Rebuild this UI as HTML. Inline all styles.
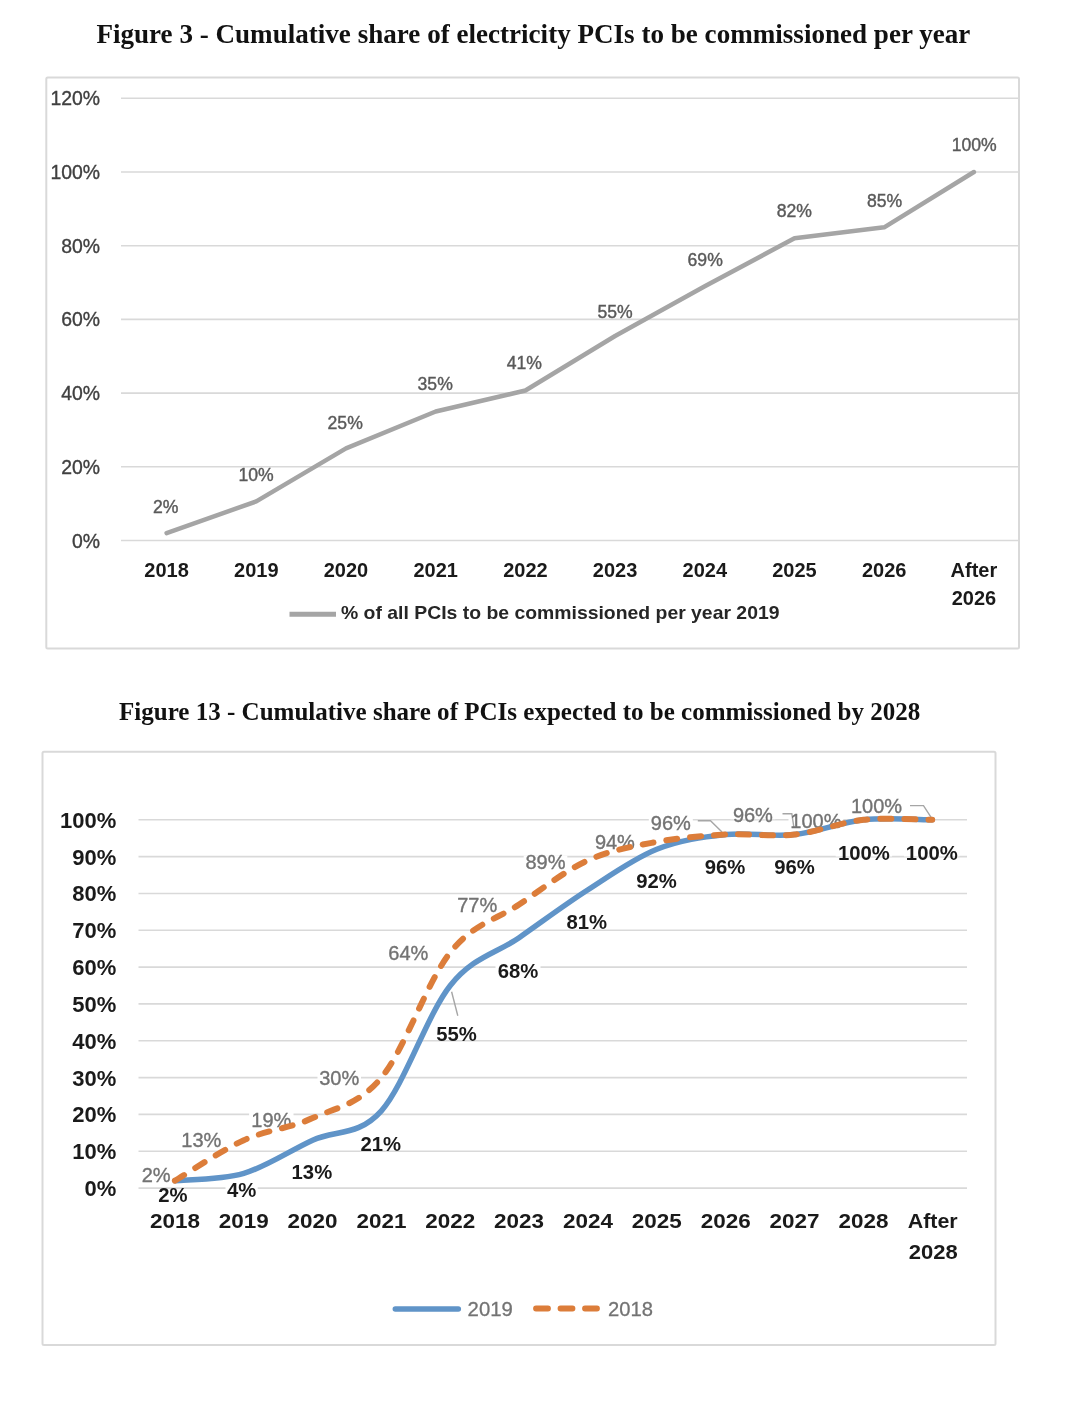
<!DOCTYPE html><html><head><meta charset="utf-8"><style>html,body{margin:0;padding:0;background:#fff;}svg{display:block;}.sf{font-family:"Liberation Serif",serif;font-weight:bold;fill:#111;}.ss{font-family:"Liberation Sans",sans-serif;}</style></head><body>
<svg width="1066" height="1412" viewBox="0 0 1066 1412">
<rect width="1066" height="1412" fill="#fff"/>
<text class="sf" x="96.4" y="42.8" font-size="26.5" textLength="874" lengthAdjust="spacingAndGlyphs">Figure 3 - Cumulative share of electricity PCIs to be commissioned per year</text>
<rect x="46.3" y="77.5" width="972.7" height="571" rx="1.5" fill="none" stroke="#d9d9d9" stroke-width="2"/>
<line x1="121" y1="540.5" x2="1018" y2="540.5" stroke="#d9d9d9" stroke-width="1.6"/>
<text class="ss" x="100" y="547.5" font-size="19.4" fill="#404040" stroke="#404040" stroke-width="0.35" text-anchor="end">0%</text>
<line x1="121" y1="466.8" x2="1018" y2="466.8" stroke="#d9d9d9" stroke-width="1.6"/>
<text class="ss" x="100" y="473.8" font-size="19.4" fill="#404040" stroke="#404040" stroke-width="0.35" text-anchor="end">20%</text>
<line x1="121" y1="393.1" x2="1018" y2="393.1" stroke="#d9d9d9" stroke-width="1.6"/>
<text class="ss" x="100" y="400.1" font-size="19.4" fill="#404040" stroke="#404040" stroke-width="0.35" text-anchor="end">40%</text>
<line x1="121" y1="319.4" x2="1018" y2="319.4" stroke="#d9d9d9" stroke-width="1.6"/>
<text class="ss" x="100" y="326.4" font-size="19.4" fill="#404040" stroke="#404040" stroke-width="0.35" text-anchor="end">60%</text>
<line x1="121" y1="245.7" x2="1018" y2="245.7" stroke="#d9d9d9" stroke-width="1.6"/>
<text class="ss" x="100" y="252.7" font-size="19.4" fill="#404040" stroke="#404040" stroke-width="0.35" text-anchor="end">80%</text>
<line x1="121" y1="172.0" x2="1018" y2="172.0" stroke="#d9d9d9" stroke-width="1.6"/>
<text class="ss" x="100" y="179.0" font-size="19.4" fill="#404040" stroke="#404040" stroke-width="0.35" text-anchor="end">100%</text>
<line x1="121" y1="98.3" x2="1018" y2="98.3" stroke="#d9d9d9" stroke-width="1.6"/>
<text class="ss" x="100" y="105.3" font-size="19.4" fill="#404040" stroke="#404040" stroke-width="0.35" text-anchor="end">120%</text>
<polyline points="166.6,533.1 256.3,501.4 346.0,448.4 435.7,411.5 525.4,390.5 615.1,336.0 704.8,286.2 794.5,238.3 884.2,227.3 973.9,172.0" fill="none" stroke="#a5a5a5" stroke-width="4.5" stroke-linejoin="round" stroke-linecap="round"/>
<text class="ss" x="165.7" y="512.8" font-size="17.6" fill="#5a5a5a" stroke="#5a5a5a" stroke-width="0.4" text-anchor="middle">2%</text>
<text class="ss" x="256.1" y="481.4" font-size="17.6" fill="#5a5a5a" stroke="#5a5a5a" stroke-width="0.4" text-anchor="middle">10%</text>
<text class="ss" x="345.2" y="428.9" font-size="17.6" fill="#5a5a5a" stroke="#5a5a5a" stroke-width="0.4" text-anchor="middle">25%</text>
<text class="ss" x="435.2" y="390.0" font-size="17.6" fill="#5a5a5a" stroke="#5a5a5a" stroke-width="0.4" text-anchor="middle">35%</text>
<text class="ss" x="524.4" y="369.3" font-size="17.6" fill="#5a5a5a" stroke="#5a5a5a" stroke-width="0.4" text-anchor="middle">41%</text>
<text class="ss" x="615.1" y="318.3" font-size="17.6" fill="#5a5a5a" stroke="#5a5a5a" stroke-width="0.4" text-anchor="middle">55%</text>
<text class="ss" x="705.2" y="265.9" font-size="17.6" fill="#5a5a5a" stroke="#5a5a5a" stroke-width="0.4" text-anchor="middle">69%</text>
<text class="ss" x="794.3" y="216.7" font-size="17.6" fill="#5a5a5a" stroke="#5a5a5a" stroke-width="0.4" text-anchor="middle">82%</text>
<text class="ss" x="884.6" y="206.6" font-size="17.6" fill="#5a5a5a" stroke="#5a5a5a" stroke-width="0.4" text-anchor="middle">85%</text>
<text class="ss" x="974.2" y="150.8" font-size="17.6" fill="#5a5a5a" stroke="#5a5a5a" stroke-width="0.4" text-anchor="middle">100%</text>
<text class="ss" x="166.6" y="577.2" font-size="20" font-weight="bold" fill="#1a1a1a" text-anchor="middle">2018</text>
<text class="ss" x="256.3" y="577.2" font-size="20" font-weight="bold" fill="#1a1a1a" text-anchor="middle">2019</text>
<text class="ss" x="346.0" y="577.2" font-size="20" font-weight="bold" fill="#1a1a1a" text-anchor="middle">2020</text>
<text class="ss" x="435.7" y="577.2" font-size="20" font-weight="bold" fill="#1a1a1a" text-anchor="middle">2021</text>
<text class="ss" x="525.4" y="577.2" font-size="20" font-weight="bold" fill="#1a1a1a" text-anchor="middle">2022</text>
<text class="ss" x="615.1" y="577.2" font-size="20" font-weight="bold" fill="#1a1a1a" text-anchor="middle">2023</text>
<text class="ss" x="704.8" y="577.2" font-size="20" font-weight="bold" fill="#1a1a1a" text-anchor="middle">2024</text>
<text class="ss" x="794.5" y="577.2" font-size="20" font-weight="bold" fill="#1a1a1a" text-anchor="middle">2025</text>
<text class="ss" x="884.2" y="577.2" font-size="20" font-weight="bold" fill="#1a1a1a" text-anchor="middle">2026</text>
<text class="ss" x="973.9" y="577.2" font-size="20" font-weight="bold" fill="#1a1a1a" text-anchor="middle">After</text>
<text class="ss" x="973.9" y="604.5" font-size="20" font-weight="bold" fill="#1a1a1a" text-anchor="middle">2026</text>
<line x1="289.5" y1="614.2" x2="336" y2="614.2" stroke="#a5a5a5" stroke-width="5"/>
<text class="ss" x="341" y="619.4" font-size="19" font-weight="bold" fill="#262626" textLength="438.5" lengthAdjust="spacingAndGlyphs">% of all PCIs to be commissioned per year 2019</text>
<text class="sf" x="119" y="719.8" font-size="24.3" textLength="801.2" lengthAdjust="spacingAndGlyphs">Figure 13 - Cumulative share of PCIs expected to be commissioned by 2028</text>
<rect x="42.5" y="751.8" width="953" height="593.2" rx="1.5" fill="none" stroke="#d9d9d9" stroke-width="2"/>
<line x1="138.5" y1="1188.1" x2="967" y2="1188.1" stroke="#d9d9d9" stroke-width="1.6"/>
<text class="ss" x="116.4" y="1196.0" font-size="22" font-weight="bold" fill="#1a1a1a" text-anchor="end">0%</text>
<line x1="138.5" y1="1151.3" x2="967" y2="1151.3" stroke="#d9d9d9" stroke-width="1.6"/>
<text class="ss" x="116.4" y="1159.2" font-size="22" font-weight="bold" fill="#1a1a1a" text-anchor="end">10%</text>
<line x1="138.5" y1="1114.4" x2="967" y2="1114.4" stroke="#d9d9d9" stroke-width="1.6"/>
<text class="ss" x="116.4" y="1122.3" font-size="22" font-weight="bold" fill="#1a1a1a" text-anchor="end">20%</text>
<line x1="138.5" y1="1077.6" x2="967" y2="1077.6" stroke="#d9d9d9" stroke-width="1.6"/>
<text class="ss" x="116.4" y="1085.5" font-size="22" font-weight="bold" fill="#1a1a1a" text-anchor="end">30%</text>
<line x1="138.5" y1="1040.8" x2="967" y2="1040.8" stroke="#d9d9d9" stroke-width="1.6"/>
<text class="ss" x="116.4" y="1048.7" font-size="22" font-weight="bold" fill="#1a1a1a" text-anchor="end">40%</text>
<line x1="138.5" y1="1003.9" x2="967" y2="1003.9" stroke="#d9d9d9" stroke-width="1.6"/>
<text class="ss" x="116.4" y="1011.8" font-size="22" font-weight="bold" fill="#1a1a1a" text-anchor="end">50%</text>
<line x1="138.5" y1="967.1" x2="967" y2="967.1" stroke="#d9d9d9" stroke-width="1.6"/>
<text class="ss" x="116.4" y="975.0" font-size="22" font-weight="bold" fill="#1a1a1a" text-anchor="end">60%</text>
<line x1="138.5" y1="930.3" x2="967" y2="930.3" stroke="#d9d9d9" stroke-width="1.6"/>
<text class="ss" x="116.4" y="938.2" font-size="22" font-weight="bold" fill="#1a1a1a" text-anchor="end">70%</text>
<line x1="138.5" y1="893.5" x2="967" y2="893.5" stroke="#d9d9d9" stroke-width="1.6"/>
<text class="ss" x="116.4" y="901.4" font-size="22" font-weight="bold" fill="#1a1a1a" text-anchor="end">80%</text>
<line x1="138.5" y1="856.6" x2="967" y2="856.6" stroke="#d9d9d9" stroke-width="1.6"/>
<text class="ss" x="116.4" y="864.5" font-size="22" font-weight="bold" fill="#1a1a1a" text-anchor="end">90%</text>
<line x1="138.5" y1="819.8" x2="967" y2="819.8" stroke="#d9d9d9" stroke-width="1.6"/>
<text class="ss" x="116.4" y="827.7" font-size="22" font-weight="bold" fill="#1a1a1a" text-anchor="end">100%</text>
<rect x="140.2" y="1167.9" width="31.7" height="10.8" fill="#fff"/>
<rect x="179.5" y="1132.7" width="43.6" height="11.4" fill="#fff"/>
<rect x="249.1" y="1112.2" width="44.4" height="11.4" fill="#fff"/>
<rect x="317.5" y="1070.8" width="43.5" height="11.4" fill="#fff"/>
<rect x="385.8" y="946.5" width="45.0" height="10.5" fill="#fff"/>
<rect x="455.3" y="897.2" width="43.9" height="11.4" fill="#fff"/>
<rect x="523.7" y="855.6" width="43.6" height="10.8" fill="#fff"/>
<rect x="592.7" y="834.7" width="44.4" height="11.4" fill="#fff"/>
<rect x="648.8" y="815.2" width="44.0" height="11.6" fill="#fff"/>
<rect x="730.5" y="808.5" width="44.8" height="10.8" fill="#fff"/>
<rect x="788.5" y="814.2" width="54.8" height="10.9" fill="#fff"/>
<rect x="849.3" y="799.1" width="54.4" height="10.8" fill="#fff"/>
<rect x="157.1" y="1189.0" width="31.7" height="10.0" fill="#fff"/>
<rect x="225.5" y="1183.4" width="32.2" height="10.5" fill="#fff"/>
<rect x="290.2" y="1164.5" width="43.5" height="11.4" fill="#fff"/>
<rect x="358.9" y="1137.5" width="43.8" height="10.3" fill="#fff"/>
<rect x="434.2" y="1026.7" width="44.7" height="11.4" fill="#fff"/>
<rect x="495.5" y="963.4" width="45.0" height="11.4" fill="#fff"/>
<rect x="564.5" y="915.0" width="44.4" height="10.5" fill="#fff"/>
<rect x="633.8" y="873.5" width="45.5" height="11.5" fill="#fff"/>
<rect x="702.5" y="859.2" width="45.0" height="11.6" fill="#fff"/>
<rect x="771.9" y="859.2" width="45.1" height="11.6" fill="#fff"/>
<rect x="835.7" y="844.2" width="56.4" height="12.3" fill="#fff"/>
<rect x="904.0" y="844.2" width="55.5" height="12.3" fill="#fff"/>
<g fill="none" stroke="#a6a6a6" stroke-width="1.4">
<polyline points="451.6,991.8 457.8,1015.8"/>
<polyline points="697.8,820.8 710.5,820.8 722,832"/>
<polyline points="782.5,813.7 791.8,813.7 794,828"/>
<polyline points="910,805.6 923.5,805.6 933.7,821.3"/>
</g>
<text class="ss" x="156.1" y="1181.7" font-size="20" fill="#737373" stroke="#737373" stroke-width="0.35" text-anchor="middle">2%</text>
<text class="ss" x="201.3" y="1147.1" font-size="20" fill="#737373" stroke="#737373" stroke-width="0.35" text-anchor="middle">13%</text>
<text class="ss" x="271.3" y="1126.6" font-size="20" fill="#737373" stroke="#737373" stroke-width="0.35" text-anchor="middle">19%</text>
<text class="ss" x="339.2" y="1085.2" font-size="20" fill="#737373" stroke="#737373" stroke-width="0.35" text-anchor="middle">30%</text>
<text class="ss" x="408.3" y="960.0" font-size="20" fill="#737373" stroke="#737373" stroke-width="0.35" text-anchor="middle">64%</text>
<text class="ss" x="477.2" y="911.6" font-size="20" fill="#737373" stroke="#737373" stroke-width="0.35" text-anchor="middle">77%</text>
<text class="ss" x="545.5" y="869.4" font-size="20" fill="#737373" stroke="#737373" stroke-width="0.35" text-anchor="middle">89%</text>
<text class="ss" x="614.9" y="849.1" font-size="20" fill="#737373" stroke="#737373" stroke-width="0.35" text-anchor="middle">94%</text>
<text class="ss" x="670.8" y="829.8" font-size="20" fill="#737373" stroke="#737373" stroke-width="0.35" text-anchor="middle">96%</text>
<text class="ss" x="752.9" y="822.3" font-size="20" fill="#737373" stroke="#737373" stroke-width="0.35" text-anchor="middle">96%</text>
<text class="ss" x="815.9" y="828.1" font-size="20" fill="#737373" stroke="#737373" stroke-width="0.35" text-anchor="middle">100%</text>
<text class="ss" x="876.5" y="812.9" font-size="20" fill="#737373" stroke="#737373" stroke-width="0.35" text-anchor="middle">100%</text>
<text class="ss" x="172.9" y="1202.0" font-size="20.3" font-weight="bold" fill="#1a1a1a" text-anchor="middle">2%</text>
<text class="ss" x="241.6" y="1196.9" font-size="20.3" font-weight="bold" fill="#1a1a1a" text-anchor="middle">4%</text>
<text class="ss" x="311.9" y="1178.9" font-size="20.3" font-weight="bold" fill="#1a1a1a" text-anchor="middle">13%</text>
<text class="ss" x="380.8" y="1150.8" font-size="20.3" font-weight="bold" fill="#1a1a1a" text-anchor="middle">21%</text>
<text class="ss" x="456.5" y="1041.1" font-size="20.3" font-weight="bold" fill="#1a1a1a" text-anchor="middle">55%</text>
<text class="ss" x="518.0" y="977.8" font-size="20.3" font-weight="bold" fill="#1a1a1a" text-anchor="middle">68%</text>
<text class="ss" x="586.7" y="928.5" font-size="20.3" font-weight="bold" fill="#1a1a1a" text-anchor="middle">81%</text>
<text class="ss" x="656.5" y="888.0" font-size="20.3" font-weight="bold" fill="#1a1a1a" text-anchor="middle">92%</text>
<text class="ss" x="725.0" y="873.8" font-size="20.3" font-weight="bold" fill="#1a1a1a" text-anchor="middle">96%</text>
<text class="ss" x="794.5" y="873.8" font-size="20.3" font-weight="bold" fill="#1a1a1a" text-anchor="middle">96%</text>
<text class="ss" x="863.9" y="859.5" font-size="20.3" font-weight="bold" fill="#1a1a1a" text-anchor="middle">100%</text>
<text class="ss" x="931.8" y="859.5" font-size="20.3" font-weight="bold" fill="#1a1a1a" text-anchor="middle">100%</text>
<path d="M174.9,1180.7 C186.4,1179.5 220.8,1180.1 243.8,1173.4 C266.7,1166.6 289.7,1150.7 312.6,1140.2 C335.6,1129.8 358.5,1136.5 381.4,1110.8 C404.4,1085.0 427.3,1014.4 450.3,985.5 C473.2,956.7 496.2,953.6 519.1,937.7 C542.1,921.7 565.0,904.5 588.0,889.8 C611.0,875.0 633.9,858.5 656.8,849.3 C679.8,840.1 702.7,837.0 725.7,834.5 C748.6,832.1 771.6,837.0 794.5,834.5 C817.5,832.1 840.5,822.3 863.4,819.8 C886.3,817.3 920.8,819.8 932.2,819.8" fill="none" stroke="#6094c8" stroke-width="5.5" stroke-linecap="round" stroke-linejoin="round"/>
<path d="M174.9,1180.7 C186.4,1174.0 220.8,1150.7 243.8,1140.2 C266.7,1129.8 289.7,1128.6 312.6,1118.1 C335.6,1107.7 358.5,1105.2 381.4,1077.6 C404.4,1050.0 427.3,981.2 450.3,952.4 C473.2,923.5 496.2,919.9 519.1,904.5 C542.1,889.2 565.0,870.7 588.0,860.3 C611.0,849.9 633.9,846.2 656.8,841.9 C679.8,837.6 702.7,835.8 725.7,834.5 C748.6,833.3 771.6,837.0 794.5,834.5 C817.5,832.1 840.5,822.3 863.4,819.8 C886.3,817.3 920.8,819.8 932.2,819.8" fill="none" stroke="#dc7d3a" stroke-width="6" stroke-linecap="round" stroke-dasharray="11 13"/>
<text class="ss" x="174.9" y="1228.3" font-size="21" font-weight="bold" fill="#1a1a1a" text-anchor="middle" textLength="50" lengthAdjust="spacingAndGlyphs">2018</text>
<text class="ss" x="243.8" y="1228.3" font-size="21" font-weight="bold" fill="#1a1a1a" text-anchor="middle" textLength="50" lengthAdjust="spacingAndGlyphs">2019</text>
<text class="ss" x="312.6" y="1228.3" font-size="21" font-weight="bold" fill="#1a1a1a" text-anchor="middle" textLength="50" lengthAdjust="spacingAndGlyphs">2020</text>
<text class="ss" x="381.4" y="1228.3" font-size="21" font-weight="bold" fill="#1a1a1a" text-anchor="middle" textLength="50" lengthAdjust="spacingAndGlyphs">2021</text>
<text class="ss" x="450.3" y="1228.3" font-size="21" font-weight="bold" fill="#1a1a1a" text-anchor="middle" textLength="50" lengthAdjust="spacingAndGlyphs">2022</text>
<text class="ss" x="519.1" y="1228.3" font-size="21" font-weight="bold" fill="#1a1a1a" text-anchor="middle" textLength="50" lengthAdjust="spacingAndGlyphs">2023</text>
<text class="ss" x="588.0" y="1228.3" font-size="21" font-weight="bold" fill="#1a1a1a" text-anchor="middle" textLength="50" lengthAdjust="spacingAndGlyphs">2024</text>
<text class="ss" x="656.8" y="1228.3" font-size="21" font-weight="bold" fill="#1a1a1a" text-anchor="middle" textLength="50" lengthAdjust="spacingAndGlyphs">2025</text>
<text class="ss" x="725.7" y="1228.3" font-size="21" font-weight="bold" fill="#1a1a1a" text-anchor="middle" textLength="50" lengthAdjust="spacingAndGlyphs">2026</text>
<text class="ss" x="794.5" y="1228.3" font-size="21" font-weight="bold" fill="#1a1a1a" text-anchor="middle" textLength="50" lengthAdjust="spacingAndGlyphs">2027</text>
<text class="ss" x="863.4" y="1228.3" font-size="21" font-weight="bold" fill="#1a1a1a" text-anchor="middle" textLength="50" lengthAdjust="spacingAndGlyphs">2028</text>
<text class="ss" x="932.7" y="1228.3" font-size="21" font-weight="bold" fill="#1a1a1a" text-anchor="middle" textLength="50" lengthAdjust="spacingAndGlyphs">After</text>
<text class="ss" x="933.2" y="1259" font-size="21" font-weight="bold" fill="#1a1a1a" text-anchor="middle" textLength="49" lengthAdjust="spacingAndGlyphs">2028</text>
<line x1="395.3" y1="1308.9" x2="458.3" y2="1308.9" stroke="#6094c8" stroke-width="5.5" stroke-linecap="round"/>
<text class="ss" x="467.6" y="1315.5" font-size="21" fill="#737373" stroke="#737373" stroke-width="0.3" textLength="45.2" lengthAdjust="spacingAndGlyphs">2019</text>
<line x1="536" y1="1308.5" x2="600" y2="1308.5" stroke="#dc7d3a" stroke-width="5.8" stroke-linecap="round" stroke-dasharray="12 12.5"/>
<text class="ss" x="608" y="1315.5" font-size="21" fill="#737373" stroke="#737373" stroke-width="0.3" textLength="44.9" lengthAdjust="spacingAndGlyphs">2018</text>
</svg></body></html>
